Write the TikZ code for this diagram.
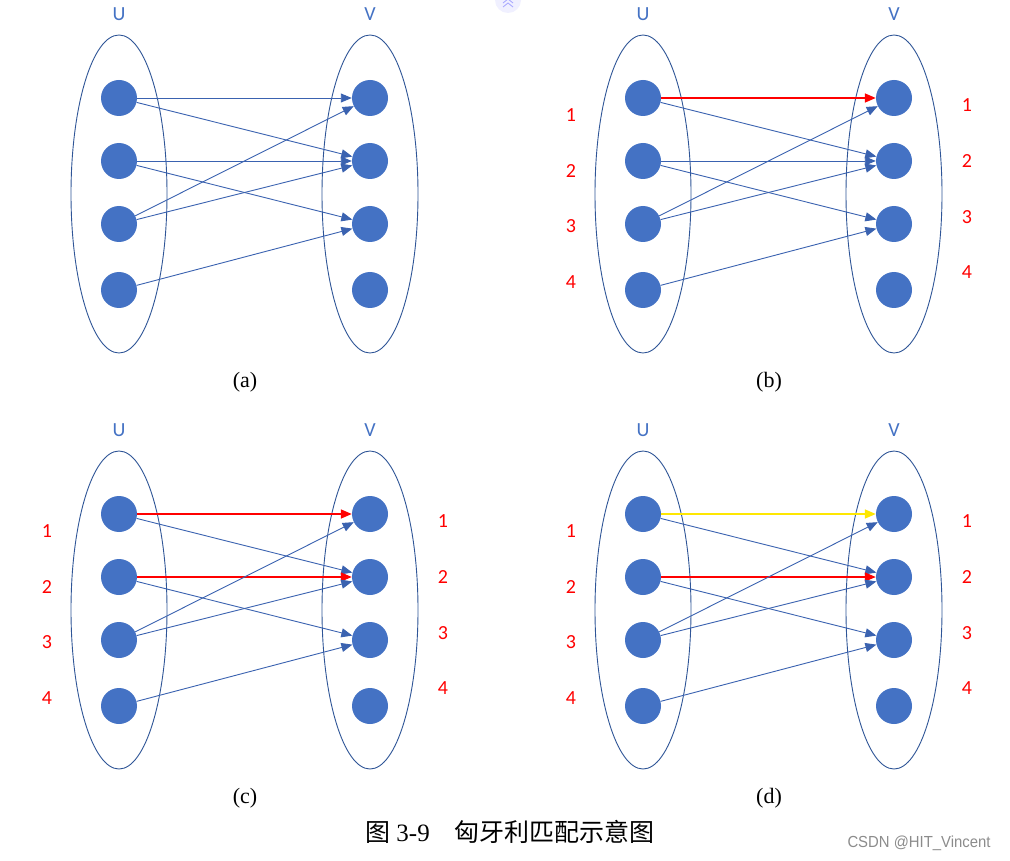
\documentclass[tikz,border=0pt]{standalone}
\usepackage{fontspec}
\setmainfont{Liberation Serif}
\newfontfamily\carlitofont{Carlito}
\newfontfamily\cjkfont{Noto Sans CJK SC}
\newfontfamily\wmfont{Liberation Sans}
\usetikzlibrary{arrows.meta}
\definecolor{ublue}{HTML}{4472C4}
\definecolor{eblue}{HTML}{3A62B0}
\definecolor{lblue}{HTML}{2F5597}
\tikzset{
  vert/.style={circle,fill=ublue,minimum size=36pt,inner sep=0pt},
  setell/.style={draw=lblue,line width=0.9pt},
  setlab/.style={font=\carlitofont\fontsize{20}{20}\selectfont,text=ublue},
  numlab/.style={font=\carlitofont\fontsize{20}{20}\selectfont,text=red},
  captext/.style={font=\fontsize{22}{22}\selectfont},
  conn/.style={draw=eblue,line width=0.9pt,-{Triangle[length=11pt,width=9pt]}},
  rconn/.style={conn,draw=red,fill=red,line width=1.6pt},
  rconnthin/.style={conn,draw=red,fill=red,line width=1.2pt},
  yconn/.style={conn,draw=yellow!90!orange,fill=yellow!90!orange,line width=1.6pt},
}
\newcommand\drawpanel[3]{%
  \begin{scope}[shift={(#2,#3)}]
    \draw[setell] (119,194) ellipse (48 and 159);
    \draw[setell] (370,194) ellipse (48 and 159);
    \node[setlab] (#1U) at (119,14) {U};
    \node[setlab] (#1V) at (370,14) {V};
    \node[vert] (#1L1) at (119,98) {};
    \node[vert] (#1L2) at (119,161) {};
    \node[vert] (#1L3) at (119,224) {};
    \node[vert] (#1L4) at (119,290) {};
    \node[vert] (#1R1) at (370,98) {};
    \node[vert] (#1R2) at (370,161) {};
    \node[vert] (#1R3) at (370,224) {};
    \node[vert] (#1R4) at (370,290) {};
  \end{scope}}
\newcommand\numlabels[3]{%
  \begin{scope}[shift={(#2,#3)}]
    \node[numlab] (#1n1) at (47,115) {1};
    \node[numlab] (#1n2) at (47,171) {2};
    \node[numlab] (#1n3) at (47,226) {3};
    \node[numlab] (#1n4) at (47,282) {4};
    \node[numlab] (#1m1) at (443,105) {1};
    \node[numlab] (#1m2) at (443,161) {2};
    \node[numlab] (#1m3) at (443,217) {3};
    \node[numlab] (#1m4) at (443,272) {4};
  \end{scope}}
\begin{document}
\begin{tikzpicture}[x=1pt,y=-1pt]
\useasboundingbox (0,0) rectangle (1010,861);
\fill[white] (0,0) rectangle (1010,861);
% top artifact
\fill[blue!6] (508,0) circle (13);
\draw[blue!35,line width=0.8pt] (503,3) -- (508,-1) -- (513,3) (503,7) -- (508,3) -- (513,7);
% panel a
\drawpanel{a}{0}{0}
\draw[conn] (aL1) -- (aR1);
\draw[conn] (aL1) -- (aR2);
\draw[conn] (aL2) -- (aR2);
\draw[conn] (aL2) -- (aR3);
\draw[conn] (aL3) -- (aR1);
\draw[conn] (aL3) -- (aR2);
\draw[conn] (aL4) -- (aR3);
\node[captext] (capa) at (245,382) {(a)};
% panel b
\drawpanel{b}{524}{0}
\numlabels{b}{524}{0}
\draw[rconn] (bL1) -- (bR1);
\draw[conn] (bL1) -- (bR2);
\draw[conn] (bL2) -- (bR2);
\draw[conn] (bL2) -- (bR3);
\draw[conn] (bL3) -- (bR1);
\draw[conn] (bL3) -- (bR2);
\draw[conn] (bL4) -- (bR3);
\node[captext] (capb) at (769,382) {(b)};
% panel c
\drawpanel{c}{0}{416}
\numlabels{c}{0}{416}
\draw[rconn] (cL1) -- (cR1);
\draw[conn] (cL1) -- (cR2);
\draw[rconnthin] (cL2) -- (cR2);
\draw[conn] (cL2) -- (cR3);
\draw[conn] (cL3) -- (cR1);
\draw[conn] (cL3) -- (cR2);
\draw[conn] (cL4) -- (cR3);
\node[captext] (capc) at (245,798) {(c)};
% panel d
\drawpanel{d}{524}{416}
\numlabels{d}{524}{416}
\draw[yconn] (dL1) -- (dR1);
\draw[conn] (dL1) -- (dR2);
\draw[rconnthin] (dL2) -- (dR2);
\draw[conn] (dL2) -- (dR3);
\draw[conn] (dL3) -- (dR1);
\draw[conn] (dL3) -- (dR2);
\draw[conn] (dL4) -- (dR3);
\node[captext] (capd) at (769,798) {(d)};
% caption
\node[font=\fontsize{25}{25}\selectfont] (fig) at (510,832) {{\cjkfont 图}~3-9\hspace{1em}{\cjkfont 匈牙利匹配示意图}};
\node[font=\wmfont\fontsize{16}{16}\selectfont,text=black!45,xscale=0.93] (wm) at (919,843) {CSDN @HIT\_Vincent};
\end{tikzpicture}
\end{document}
